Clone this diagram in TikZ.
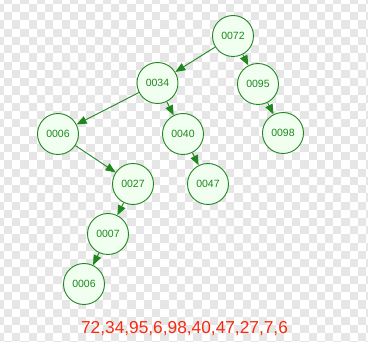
\documentclass[tikz,border=0pt]{standalone}
\usepackage{fontspec}
\setmainfont{Liberation Sans}
\usetikzlibrary{arrows.meta}

\definecolor{treegreen}{RGB}{30,135,30}
\definecolor{nodefill}{RGB}{240,255,240}
\definecolor{seqred}{RGB}{250,40,15}
\definecolor{checkgray}{RGB}{230,230,230}

\tikzset{
  treenode/.style={circle, draw=treegreen, line width=0.9pt, fill=nodefill,
    minimum size=41pt, inner sep=0pt, text=treegreen,
    font=\fontsize{10.5}{12}\selectfont},
  link/.style={draw=treegreen, line width=0.9pt,
    -{Triangle[length=10pt,width=8pt]}},
}

\begin{document}
\begin{tikzpicture}[x=1pt, y=-1pt]
  \useasboundingbox (0,0) rectangle (368,342);

  % checkered backdrop
  \begin{scope}
    \clip (0,0) rectangle (368,342);
    \fill[white] (0,0) rectangle (368,342);
    \foreach \i in {-1,...,44} {
      \foreach \j in {-1,...,41} {
        \ifodd\numexpr\i+\j\relax
          \fill[checkgray] ({4+8.23*\i},{4+8.23*\j}) rectangle ++(8.23,8.23);
        \fi
      }
    }
  \end{scope}

  % binary search tree
  \node[treenode] (n72) at (233,36)  {0072};
  \node[treenode] (n34) at (157.5,83) {0034};
  \node[treenode] (n95) at (258,84)  {0095};
  \node[treenode] (n6)  at (58,134)  {0006};
  \node[treenode] (n40) at (183,134) {0040};
  \node[treenode] (n98) at (283,133) {0098};
  \node[treenode] (n27) at (133,184) {0027};
  \node[treenode] (n47) at (208,184) {0047};
  \node[treenode] (n7)  at (108,234) {0007};
  \node[treenode] (n6b) at (84,284)  {0006};

  \draw[link] (n72) -- (n34);
  \draw[link] (n72) -- (n95);
  \draw[link] (n34) -- (n6);
  \draw[link] (n34) -- (n40);
  \draw[link] (n95) -- (n98);
  \draw[link] (n6)  -- (n27);
  \draw[link] (n40) -- (n47);
  \draw[link] (n27) -- (n7);
  \draw[link] (n7)  -- (n6b);

  % insertion order
  \node[anchor=base, text=seqred, font=\fontsize{17.3}{20}\selectfont, inner sep=0pt]
    (seq) at (184.5,333.5) {72,34,95,6,98,40,47,27,7,6};
\end{tikzpicture}
\end{document}
